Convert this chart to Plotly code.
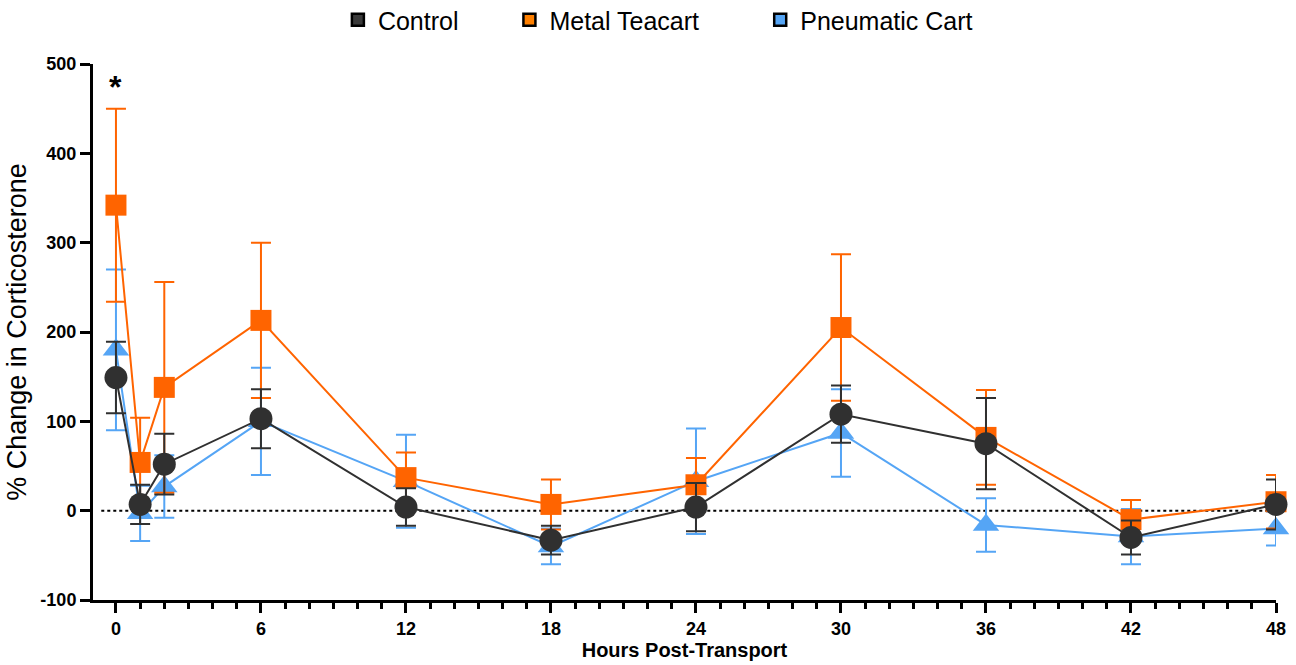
import plotly.graph_objects as go

hours = [0, 1, 2, 6, 12, 18, 24, 30, 36, 42, 48]

control_mean = [149, 7, 52, 103, 4, -33, 4, 108, 75, -30, 7]
control_sem = [40, 22, 34, 33, 21, 16, 27, 32, 51, 19, 28]

metal_mean = [342, 54, 138, 213, 37, 7, 29, 205, 82, -10, 10]
metal_sem = [108, 50, 118, 87, 28, 28, 30, 82, 53, 22, 30]

pneu_mean = [180, -3, 27, 100, 33, -40, 33, 87, -16, -29, -20]
pneu_sem = [90, 31, 35, 60, 52, 20, 59, 49, 30, 31, 19]

series_names = ["Control", "Metal Teacart", "Pneumatic Cart"]
line_colors = ["#303030", "#FF6400", "#55A5F5"]
legend_fill = ["#3A3A3A", "#FF8000", "#55A5F5"]
legend_x = [0.2070, 0.3520, 0.5640]

x_ticks = [0, 6, 12, 18, 24, 30, 36, 42, 48]
y_ticks = [-100, 0, 100, 200, 300, 400, 500]

FONT = "Arial, Liberation Sans, sans-serif"

fig = go.Figure()

def add_series(x, y, e, color, symbol, size):
    fig.add_trace(go.Scatter(
        x=x, y=y, mode="lines+markers",
        line=dict(color=color, width=2),
        marker=dict(symbol=symbol, size=size, color=color),
        error_y=dict(type="data", array=e, visible=True, color=color,
                     thickness=2, width=10),
        showlegend=False, cliponaxis=False,
    ))

# draw order: pneumatic at bottom, control on top
add_series(hours, pneu_mean, pneu_sem, line_colors[2], "triangle-up", 23)
add_series(hours, metal_mean, metal_sem, line_colors[1], "square", 21)
add_series(hours, control_mean, control_sem, line_colors[0], "circle", 23)

# legend entries (box style), one legend per entry for exact placement
legend_keys = ["legend", "legend2", "legend3"]
for name, fc, key in zip(series_names, legend_fill, legend_keys):
    fig.add_trace(go.Bar(
        x=[None], y=[None], name=name, legend=key,
        marker=dict(color=fc, line=dict(color="black", width=2.5)),
        showlegend=True,
    ))

# dotted zero line
fig.add_shape(type="line", xref="paper", yref="y", x0=0.007, x1=1, y0=0, y1=0,
              line=dict(color="black", width=2, dash="dot"), layer="below")

# significance asterisk
fig.add_annotation(x=hours[0], y=474, text="<b>*</b>", showarrow=False,
                   font=dict(size=32, color="black", family=FONT))

legend_common = dict(orientation="h", xanchor="left", y=1.082,
                     yanchor="middle", font=dict(size=25, family=FONT),
                     itemclick=False, bgcolor="rgba(0,0,0,0)")

fig.update_layout(
    width=1296, height=665,
    margin=dict(l=93, r=20, t=64, b=65, autoexpand=False),
    plot_bgcolor="white", paper_bgcolor="white",
    font=dict(family=FONT, color="black"),
    legend=dict(x=legend_x[0], **legend_common),
    legend2=dict(x=legend_x[1], **legend_common),
    legend3=dict(x=legend_x[2], **legend_common),
    xaxis=dict(
        range=[-0.95, 48], tickmode="array", tickvals=x_ticks,
        ticktext=[f"<b>{t}</b>" for t in x_ticks],
        showgrid=False, zeroline=False, showline=True, linecolor="black",
        linewidth=3, ticks="outside", ticklen=10, tickwidth=3,
        tickcolor="black", tickfont=dict(size=18, family=FONT),
        minor=dict(dtick=1, tick0=0, ticks="outside", ticklen=6,
                   tickwidth=3, tickcolor="black", showgrid=False),
        title=dict(text="<b>Hours Post-Transport</b>",
                   font=dict(size=20, family=FONT), standoff=6),
    ),
    yaxis=dict(
        range=[-100, 500], tickmode="array", tickvals=y_ticks,
        ticktext=[f"<b>{t}</b>" for t in y_ticks],
        showgrid=False, zeroline=False, showline=True, linecolor="black",
        linewidth=3, ticks="outside", ticklen=10, tickwidth=3,
        tickcolor="black", tickfont=dict(size=18, family=FONT),
        title=dict(text="% Change in Corticosterone",
                   font=dict(size=27, family=FONT), standoff=6),
    ),
)

fig.write_html("out.html", config={"displayModeBar": False},
               post_script="document.body.style.margin='0';")
